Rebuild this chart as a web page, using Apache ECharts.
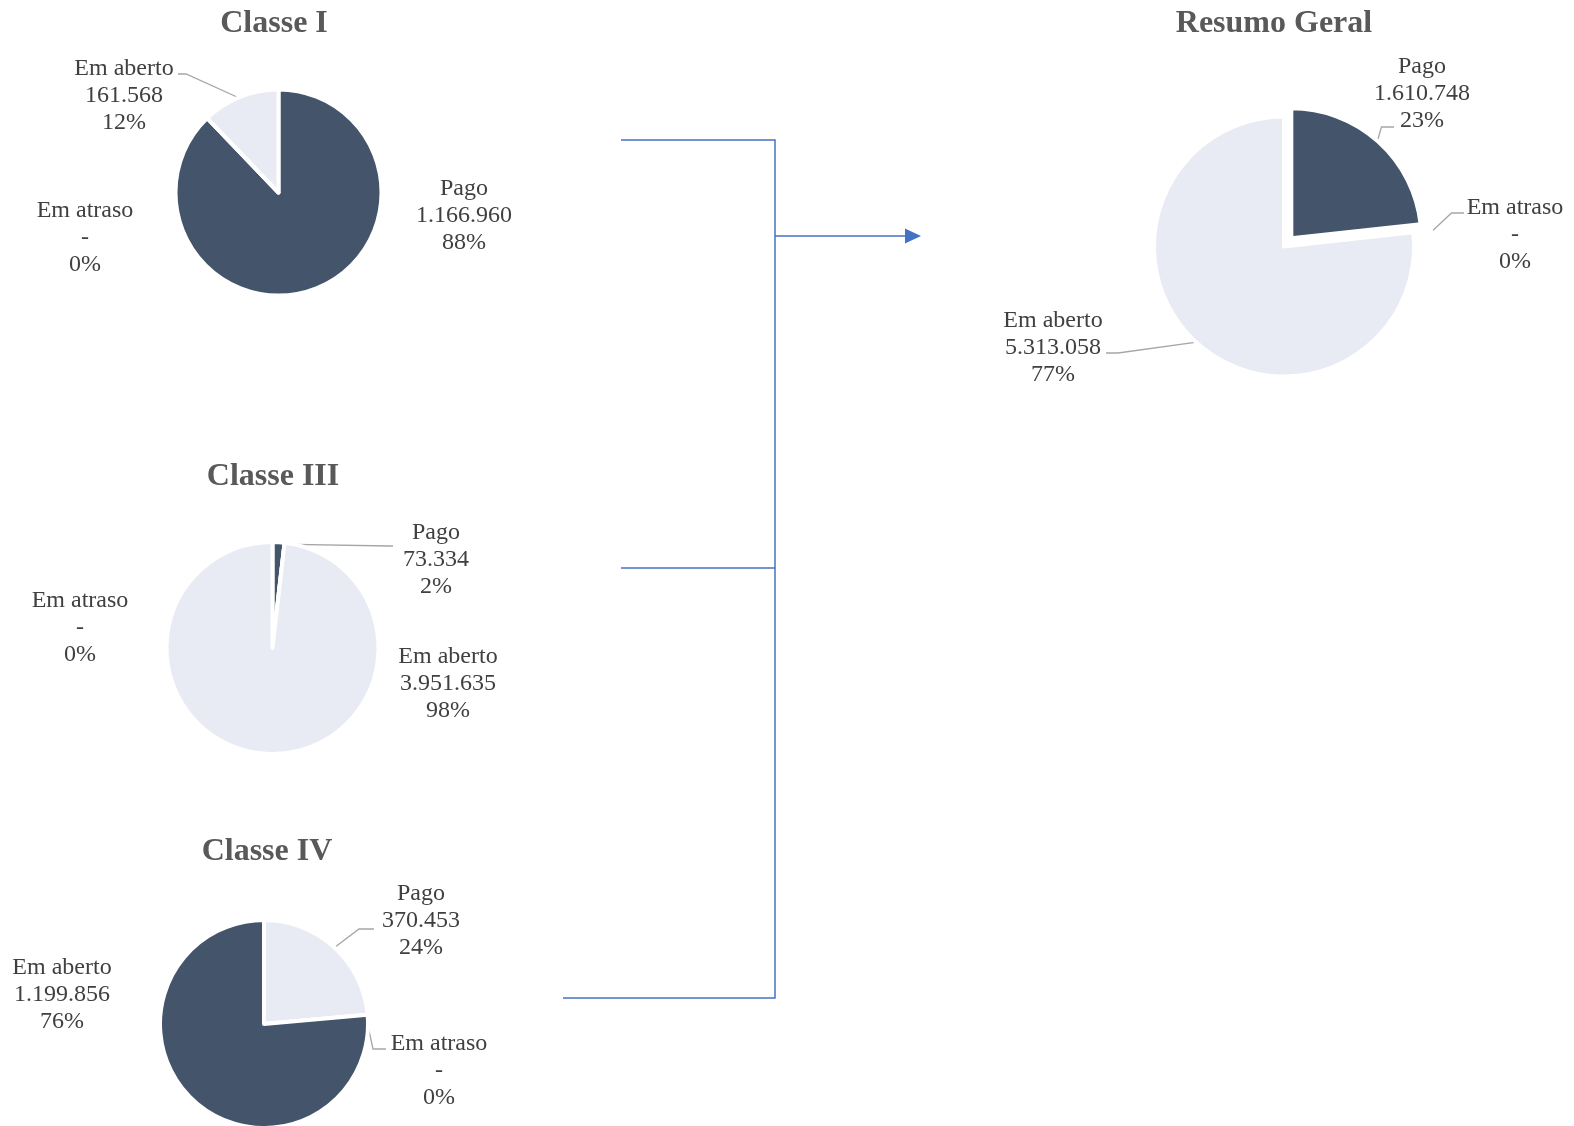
<!DOCTYPE html>
<html>
<head>
<meta charset="utf-8">
<script src="https://cdn.jsdelivr.net/npm/echarts@6/dist/echarts.min.js"></script>
<style>
html,body{margin:0;padding:0;background:#ffffff;}
#chart{width:1574px;height:1126px;}
</style>
</head>
<body>
<div id="chart"></div>
<script>
// ---------- DATA ----------
const categories = ['Pago', 'Em atraso', 'Em aberto'];
const chartTitles = ['Classe I', 'Classe III', 'Classe IV', 'Resumo Geral'];
const classeIValues = [1166960, 0, 161568];
const classeIIIValues = [73334, 0, 3951635];
const classeIVValues = [370453, 0, 1199856];
const resumoGeralValues = [1610748, 0, 5313058];
const seriesValues = [classeIValues, classeIIIValues, classeIVValues, resumoGeralValues];

// ---------- STYLE / LAYOUT ----------
const DARK = '#44546a';
const LIGHT = '#e8eaf4';
const BORDER = 4;
const FONT = "'Liberation Serif', 'Times New Roman', serif";
const LABEL_COLOR = '#404040';
const TITLE_COLOR = '#595959';
const LINE_BLUE = '#4472c4';

const layouts = [
  { center: [278.5, 192.5], radius: 103, title: [274, 24],
    colors: { 'Pago': DARK, 'Em atraso': DARK, 'Em aberto': LIGHT },
    labels: {
      'Pago': { pos: [464, 216] },
      'Em atraso': { pos: [85, 238] },
      'Em aberto': { pos: [124, 96], leader: [[186, 74], [178, 74]] }
    } },
  { center: [272.5, 648], radius: 106, title: [273, 477],
    colors: { 'Pago': DARK, 'Em atraso': DARK, 'Em aberto': LIGHT },
    labels: {
      'Pago': { pos: [436, 560], leader: [[390, 546], [393, 546]] },
      'Em atraso': { pos: [80, 628] },
      'Em aberto': { pos: [448, 684] }
    } },
  { center: [264, 1024], radius: 104, title: [267, 852],
    colors: { 'Pago': LIGHT, 'Em atraso': DARK, 'Em aberto': DARK },
    labels: {
      'Pago': { pos: [421, 921], leader: [[359, 929], [374, 929]] },
      'Em atraso': { pos: [439, 1071], leader: [[373, 1049], [386, 1049]] },
      'Em aberto': { pos: [62, 995] }
    } },
  { center: [1284, 246.5], radius: 130, title: [1274, 24], explode: 'Pago', offset: 11,
    colors: { 'Pago': DARK, 'Em atraso': DARK, 'Em aberto': LIGHT },
    labels: {
      'Pago': { pos: [1422, 94], leader: [[1381.5, 127], [1394, 127]] },
      'Em atraso': { pos: [1515, 235], leader: [[1451.5, 213], [1464, 213]], extra: 22 },
      'Em aberto': { pos: [1053, 348], leader: [[1118, 353], [1106, 353]] }
    } }
];

function fmtValue(v) {
  if (v === 0) return '-';
  return String(v).replace(/\B(?=(\d{3})+(?!\d))/g, '.');
}

// mid angle of a slice (radians, clockwise from 12 o'clock), from the data
function midAngle(values, idx) {
  const total = values.reduce((a, b) => a + b, 0);
  let cum = 0;
  for (let i = 0; i < idx; i++) cum += values[i];
  return (cum + values[idx] / 2) / total * 2 * Math.PI;
}

// anchor point of a leader line on the slice edge
function sliceAnchor(values, idx, lay) {
  const theta = midAngle(values, idx);
  const sx = Math.sin(theta), sy = -Math.cos(theta);
  const cat = categories[idx];
  const off = (lay.explode === cat) ? lay.offset : 0;
  const r = lay.radius - BORDER / 2 + (lay.labels[cat].extra || 0);
  return [lay.center[0] + sx * (off + r), lay.center[1] + sy * (off + r)];
}

// one pie series; "visible" tells which slices this layer paints
function buildSeries(values, si, visible, center) {
  const lay = layouts[si];
  return {
    type: 'pie',
    name: chartTitles[si],
    center: center,
    radius: lay.radius,
    startAngle: 90,
    clockwise: true,
    avoidLabelOverlap: false,
    percentPrecision: 0,
    selectedMode: false,
    animation: false,
    emphasis: { disabled: true },
    itemStyle: { borderColor: '#ffffff', borderWidth: BORDER },
    label: {
      show: true,
      color: LABEL_COLOR,
      fontFamily: FONT,
      fontSize: 24,
      lineHeight: 27,
      align: 'center',
      formatter: p => p.name + '\n' + fmtValue(p.value) + '\n' + p.percent + '%'
    },
    labelLine: { show: true, lineStyle: { color: '#a6a6a6', width: 1.3 } },
    labelLayout: function (p) {
      const cat = categories[p.dataIndex];
      const L = lay.labels[cat];
      const res = { x: L.pos[0], y: L.pos[1], align: 'center', verticalAlign: 'middle' };
      if (L.leader) {
        res.labelLinePoints = [sliceAnchor(values, p.dataIndex, lay), L.leader[0], L.leader[1]];
      }
      return res;
    },
    data: categories.map((c, i) => {
      const on = visible(c);
      return {
        name: c,
        value: values[i],
        itemStyle: on ? { color: lay.colors[c] } : { color: 'rgba(0,0,0,0)', borderWidth: 0 },
        label: { show: on },
        labelLine: { show: on && !!lay.labels[c].leader }
      };
    })
  };
}

const series = [];
seriesValues.forEach((values, si) => {
  const lay = layouts[si];
  if (!lay.explode) {
    series.push(buildSeries(values, si, () => true, lay.center));
  } else {
    const ex = lay.explode;
    series.push(buildSeries(values, si, c => c !== ex, lay.center));
    const th = midAngle(values, categories.indexOf(ex));
    const shifted = [lay.center[0] + Math.sin(th) * lay.offset, lay.center[1] - Math.cos(th) * lay.offset];
    series.push(buildSeries(values, si, c => c === ex, shifted));
  }
});

const titleGraphics = chartTitles.map((t, i) => ({
  type: 'text',
  x: layouts[i].title[0],
  y: layouts[i].title[1],
  style: {
    text: t,
    font: "bold 32px 'Liberation Serif', 'Times New Roman', serif",
    fill: TITLE_COLOR,
    align: 'center',
    verticalAlign: 'middle'
  }
}));

const connectorGraphics = [
  { type: 'polyline', shape: { points: [[621, 140], [775, 140], [775, 998], [563, 998]] },
    style: { stroke: LINE_BLUE, lineWidth: 1.5, fill: null } },
  { type: 'line', shape: { x1: 621, y1: 568, x2: 775, y2: 568 },
    style: { stroke: LINE_BLUE, lineWidth: 1.5 } },
  { type: 'line', shape: { x1: 775, y1: 236, x2: 908, y2: 236 },
    style: { stroke: LINE_BLUE, lineWidth: 1.5 } },
  { type: 'polygon', shape: { points: [[905, 228.5], [921, 236], [905, 243.5]] },
    style: { fill: LINE_BLUE } }
];

const chart = echarts.init(document.getElementById('chart'), null, { renderer: 'canvas' });
chart.setOption({
  backgroundColor: '#ffffff',
  animation: false,
  series: series,
  graphic: titleGraphics.concat(connectorGraphics)
});
</script>
</body>
</html>
